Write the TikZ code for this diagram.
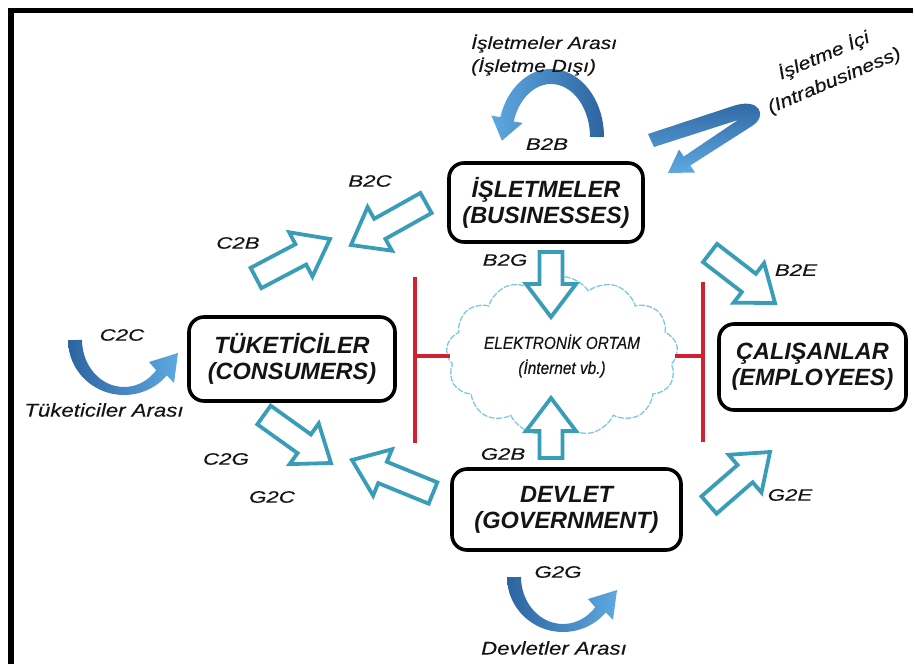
\documentclass[tikz,border=0pt]{standalone}
\usepackage{fontspec}
\setmainfont{Liberation Sans}
\newfontfamily\lblfont{Liberation Sans}[FakeStretch=1.2,FakeBold=0.3]
\newfontfamily\codefont{Liberation Sans}[FakeStretch=1.35,FakeBold=0.3]
\newfontfamily\cloudfont{Liberation Sans}[FakeStretch=0.88,FakeBold=0.3]
\usetikzlibrary{calc,shapes.symbols}
\definecolor{teal1}{RGB}{58,157,183}
\definecolor{redl}{RGB}{206,34,50}
\definecolor{cloudc}{RGB}{125,200,228}
\definecolor{bdark}{RGB}{45,100,160}
\definecolor{blight}{RGB}{95,168,224}
\definecolor{txt}{RGB}{20,20,20}
\tikzset{
 ent/.style={draw=black, line width=3.6pt, rounded corners=15pt, align=center,
   font=\fontsize{23.5}{26}\selectfont\bfseries\itshape, text=txt, inner sep=0pt},
 lbl/.style={font=\lblfont\fontsize{18.5}{23}\selectfont\itshape, text=txt, inner sep=0pt, align=center},
 code/.style={font=\codefont\fontsize{16.5}{20}\selectfont\itshape, text=txt, inner sep=0pt},
 blk/.style={draw=teal1, line width=3.8pt, fill=white, line join=miter, miter limit=10},
 redline/.style={draw=redl, line width=3.5pt},
 uarr/.pic={
   \path[left color=bdark, right color=blight] (-56,0)
     arc[start angle=180,end angle=320,x radius=56pt,y radius=55pt]
     -- (50,-43) -- (54,-13) -- (25,-22) -- (32.2,-30.2)
     arc[start angle=320,end angle=180,x radius=42pt,y radius=47pt] -- cycle;
 }
}
\newcommand\blockarr[2]{%
 \coordinate (hb) at ($(#2)!33pt!(#1)$);
 \draw[blk] ($(#1)!11.5pt!90:(#2)$) -- ($(hb)!11.5pt!90:(#2)$) -- ($(hb)!25pt!90:(#2)$)
   -- (#2) -- ($(hb)!25pt!-90:(#2)$) -- ($(hb)!11.5pt!-90:(#2)$) -- ($(#1)!11.5pt!-90:(#2)$) -- cycle;
}
\begin{document}
\begin{tikzpicture}[x=1pt,y=1pt]
\useasboundingbox (0,0) rectangle (915,-664);
% frame
\draw[line width=5.5pt, line join=miter] (11,-664) -- (11,-10.5) -- (913,-10.5);

% curved arrows
\path[left color=blight, right color=bdark] (604,-137)
  arc[start angle=0,end angle=163,x radius=53pt,y radius=68pt]
  -- (491.4,-115.6) -- (501.9,-140.7) -- (522.6,-123) -- (513.7,-121.5)
  arc[start angle=163,end angle=0,x radius=39pt,y radius=53pt] -- cycle;
\path[top color=bdark, bottom color=blight] (648,-134) -- (733,-106)
  .. controls (760,-97) and (768,-116) .. (752,-126) -- (690.2,-165.5)
  -- (695,-172.5) -- (668,-173) -- (679,-149.5) -- (683.8,-156.5)
  -- (738,-120) -- (654,-147) -- cycle;
\pic at (124,-340) {uarr};
\pic at (563,-577) {uarr};

% boxes
\node[ent, minimum width=194pt, minimum height=79pt] (isl) at (546,-202.5) {İŞLETMELER\\(BUSINESSES)};
\node[ent, minimum width=206pt, minimum height=84pt] (tuk) at (292,-359) {TÜKETİCİLER\\(CONSUMERS)};
\node[ent, minimum width=187pt, minimum height=86pt] (cal) at (812.5,-367) {ÇALIŞANLAR\\(EMPLOYEES)};
\node[ent, minimum width=229pt, minimum height=81pt] (dev) at (566.5,-509.5) {DEVLET\\(GOVERNMENT)};

% cloud
\node[cloud, cloud puffs=13, cloud puff arc=115, aspect=1.65, draw=cloudc, line width=1.3pt,
  dash pattern=on 6pt off 1.5pt, minimum width=208pt, minimum height=128pt, inner sep=0pt,
  align=center, text=txt, font=\cloudfont\fontsize{17.5}{25}\selectfont\itshape]
  (net) at (562,-356) {ELEKTRONİK ORTAM\\(İnternet vb.)};

% red lines
\coordinate (la) at (415,-277); \coordinate (lb) at (415,-443);
\coordinate (lm) at (415,-356); \coordinate (lc) at (450,-356);
\coordinate (ra) at (703,-282); \coordinate (rb) at (703,-442);
\coordinate (rm) at (703,-356); \coordinate (rc) at (675,-356);
\draw[redline] (la) -- (lb); \draw[redline] (lm) -- (lc);
\draw[redline] (ra) -- (rb); \draw[redline] (rm) -- (rc);

% block arrows
\coordinate (b2cT) at (426,-203); \coordinate (b2cH) at (351,-245);
\coordinate (c2bT) at (256,-278); \coordinate (c2bH) at (330,-239);
\coordinate (b2gT) at (551,-252); \coordinate (b2gH) at (551,-317);
\coordinate (g2bT) at (551,-458); \coordinate (g2bH) at (551,-398);
\coordinate (b2eT) at (710,-253); \coordinate (b2eH) at (775,-303);
\coordinate (g2eT) at (709,-505); \coordinate (g2eH) at (770,-452);
\coordinate (c2gT) at (264,-415); \coordinate (c2gH) at (331,-463);
\coordinate (g2cT) at (433,-493); \coordinate (g2cH) at (352,-460);
\blockarr{b2cT}{b2cH}
\blockarr{c2bT}{c2bH}
\blockarr{b2gT}{b2gH}
\blockarr{g2bT}{g2bH}
\blockarr{b2eT}{b2eH}
\blockarr{g2eT}{g2eH}
\blockarr{c2gT}{c2gH}
\blockarr{g2cT}{g2cH}

% labels
\node[code] (tB2C) at (370,-181) {B2C};
\node[code] (tC2B) at (238,-243) {C2B};
\node[code] (tB2G) at (505,-260) {B2G};
\node[code] (tB2E) at (796,-270) {B2E};
\node[code] (tG2B) at (503,-454) {G2B};
\node[code] (tG2E) at (790,-495) {G2E};
\node[code] (tC2G) at (226,-459) {C2G};
\node[code] (tG2C) at (272,-497) {G2C};
\node[code] (tC2C) at (122,-335) {C2C};
\node[code] (tB2B) at (547,-144) {B2B};
\node[code] (tG2G) at (558,-572) {G2G};
\node[lbl, anchor=west, align=left, font=\lblfont\fontsize{17.5}{23}\selectfont\itshape] (tIA) at (471,-55) {İşletmeler Arası\\(İşletme Dışı)};
\node[lbl, rotate=23, font=\lblfont\fontsize{18}{27}\selectfont\itshape] (tII) at (829,-68) {İşletme İçi\\(Intrabusiness)};
\node[lbl] (tTA) at (104,-410) {Tüketiciler Arası};
\node[lbl] (tDA) at (554,-648) {Devletler Arası};
\end{tikzpicture}
\end{document}
